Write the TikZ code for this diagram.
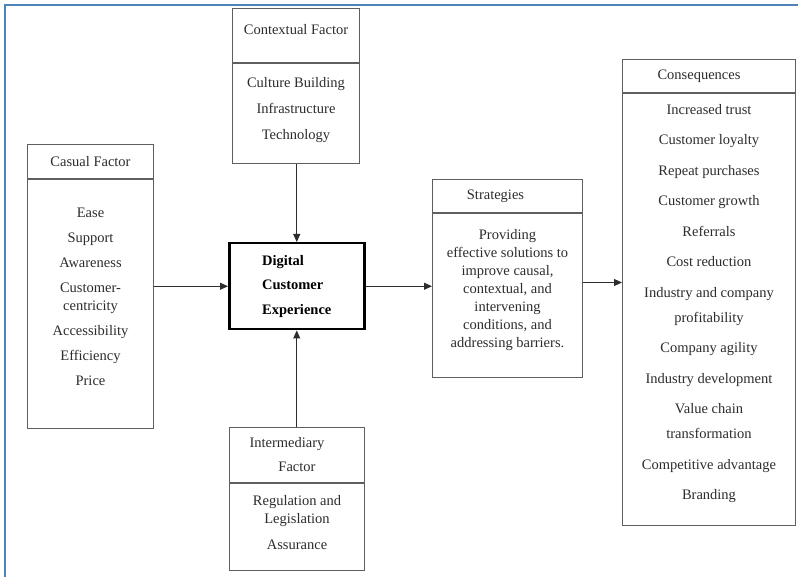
\documentclass[tikz,border=0pt]{standalone}
\usepackage{fontspec}
\setmainfont{Liberation Serif}
\usetikzlibrary{arrows.meta,positioning}
\definecolor{bordblue}{RGB}{79,129,189}
\definecolor{boxgray}{RGB}{95,95,95}
\definecolor{txtgray}{RGB}{45,45,45}
\begin{document}
\begin{tikzpicture}[x=1pt,y=-1pt,
  every node/.style={font=\fontsize{14.5}{18}\selectfont, text=txtgray},
  part/.style={draw=boxgray, line width=1pt, inner sep=0pt, align=center},
  arr/.style={draw=txtgray, line width=1pt, -{Triangle[length=8pt,width=7pt]}}
]
\useasboundingbox (0,0) rectangle (798,577);
\fill[white] (0,0) rectangle (798,577);
\draw[bordblue, line width=2.2pt] (5,577) -- (5,5) -- (798,5);

% Contextual factor
\node[part, anchor=north west, minimum width=127pt, minimum height=54pt, text depth=13pt] (ctxT) at (232,8) {Contextual Factor};
\node[part, anchor=north, minimum width=127pt, minimum height=100pt, text depth=11pt] (ctxB) at (ctxT.south) {Culture Building\\[8pt]Infrastructure\\[8pt]Technology};

% Casual factor
\node[part, anchor=north west, minimum width=126pt, minimum height=34pt] (casT) at (27,144) {Casual Factor};
\node[part, anchor=north, minimum width=126pt, minimum height=249pt, text depth=14pt] (casB) at (casT.south) {Ease\\[7pt]Support\\[7pt]Awareness\\[7pt]Customer-\\centricity\\[7pt]Accessibility\\[7pt]Efficiency\\[7pt]Price};
\draw[boxgray, line width=2pt] (casT.south west) -- (casT.south east);

% Digital customer experience
\node[draw=black, line width=2.5pt, anchor=north west, minimum width=135pt, minimum height=86pt, inner sep=0pt, align=left, font=\fontsize{14.5}{18}\selectfont\bfseries, text=black] (dce) at (228,242) {Digital\\[6.5pt]Customer\\[6.5pt]Experience};

% Strategies
\node[part, anchor=north west, minimum width=150pt, minimum height=33pt] (strT) at (432,179) {Strategies\hspace*{24pt}};
\node[part, anchor=north, minimum width=150pt, minimum height=164pt, text depth=15pt] (strB) at (strT.south) {Providing\\effective solutions to\\improve causal,\\contextual, and\\intervening\\conditions, and\\addressing barriers.};

% Consequences
\node[part, anchor=north west, minimum width=173pt, minimum height=33pt] (conT) at (622,59) {Consequences\hspace*{20pt}};
\node[part, anchor=north, minimum width=173pt, minimum height=432pt, text depth=15pt, font=\fontsize{14.5}{25}\selectfont] (conB) at (conT.south) {Increased trust\\[5.5pt]Customer loyalty\\[5.5pt]Repeat purchases\\[5.5pt]Customer growth\\[5.5pt]Referrals\\[5.5pt]Cost reduction\\[5.5pt]Industry and company\\profitability\\[5.5pt]Company agility\\[5.5pt]Industry development\\[5.5pt]Value chain\\transformation\\[5.5pt]Competitive advantage\\[5.5pt]Branding};

% Intermediary factor
\node[part, anchor=north west, minimum width=135pt, minimum height=55pt] (intT) at (229,427) {Intermediary\hspace*{20pt}\\[6pt]Factor};
\node[part, anchor=north, minimum width=135pt, minimum height=87pt, text depth=10pt] (intB) at (intT.south) {Regulation and\\Legislation\\[8pt]Assurance};

% Connectors
\draw[arr] (ctxB.south -| dce.north) -- (dce.north);
\draw[arr] (intT.north -| dce.south) -- (dce.south);
\draw[arr] (casB.east |- dce.west) -- (dce.west);
\draw[arr] (dce.east) -- (dce.east -| strB.west);
\draw[arr] ([yshift=13pt]strB.east) -- ([yshift=13pt]strB.east -| conB.west);
\end{tikzpicture}
\end{document}
